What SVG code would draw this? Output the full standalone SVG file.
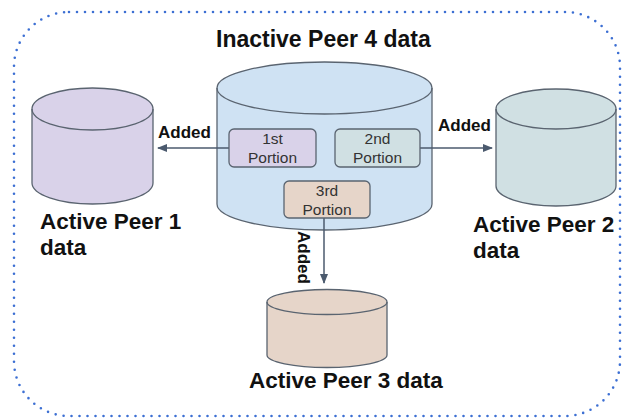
<svg xmlns="http://www.w3.org/2000/svg" width="623" height="420" viewBox="0 0 623 420">
  <defs>
    <style>
      .cyl { stroke: #5a6470; stroke-width: 1.3; }
      .box { stroke: #5a6470; stroke-width: 1.3; }
      .conn { stroke: #4b5a6e; stroke-width: 1.5; fill: none; }
      .lbl { font-family: "Liberation Sans", Arial, sans-serif; font-weight: bold; fill: #111; }
      .big { font-size: 22.5px; }
      .ttl { font-size: 23px; }
      .add { font-size: 17px; }
      .por { font-family: "Liberation Sans", Arial, sans-serif; font-size: 15.5px; fill: #333; text-anchor: middle; }
    </style>
    <marker id="arrow" viewBox="0 0 10 10" refX="9" refY="5" markerWidth="10" markerHeight="10" markerUnits="userSpaceOnUse" orient="auto">
      <path d="M0,1 L10,5 L0,9 Z" fill="#4b5a6e"/>
    </marker>
  </defs>

  <!-- dotted boundary -->
  <rect x="14" y="12" width="606" height="404" rx="55" ry="55" fill="none" stroke="#3c6fd3" stroke-width="2.6" stroke-linecap="round" stroke-dasharray="0 8"/>

  <!-- inactive peer 4 -->
  <g id="peer4">
    <path class="cyl" fill="#cfe2f3" d="M217,88 A107.5,26 0 0 1 432,88 L432,204 A107.5,26 0 0 1 217,204 Z"/>
    <path class="cyl" fill="none" d="M217,88 A107.5,26 0 0 0 432,88"/>
    <text class="lbl ttl" x="216" y="47">Inactive Peer 4 data</text>
  </g>

  <!-- active peer 1 -->
  <g id="peer1">
    <path class="cyl" fill="#d9d2e9" d="M32,109 A60.5,21 0 0 1 153,109 L153,183 A60.5,21 0 0 1 32,183 Z"/>
    <path class="cyl" fill="none" d="M32,109 A60.5,21 0 0 0 153,109"/>
    <text class="lbl big" x="40" y="229">Active Peer 1</text>
    <text class="lbl big" x="40" y="255">data</text>
  </g>

  <!-- active peer 2 -->
  <g id="peer2">
    <path class="cyl" fill="#d0e0e3" d="M496,109 A60,20 0 0 1 616,109 L616,186 A60,20 0 0 1 496,186 Z"/>
    <path class="cyl" fill="none" d="M496,109 A60,20 0 0 0 616,109"/>
    <text class="lbl big" x="473" y="232">Active Peer 2</text>
    <text class="lbl big" x="473" y="258">data</text>
  </g>

  <!-- active peer 3 -->
  <g id="peer3">
    <path class="cyl" fill="#e6d5c9" d="M267,302 A60,12.5 0 0 1 387,302 L387,355 A60,12.5 0 0 1 267,355 Z"/>
    <path class="cyl" fill="none" d="M267,302 A60,12.5 0 0 0 387,302"/>
    <text class="lbl big" x="249" y="388">Active Peer 3 data</text>
  </g>

  <!-- connectors, drawn over the source cylinder -->
  <g id="connectors">
    <line class="conn" x1="229" y1="148" x2="158" y2="148" marker-end="url(#arrow)"/>
    <line class="conn" x1="420" y1="148" x2="492" y2="148" marker-end="url(#arrow)"/>
    <line class="conn" x1="324" y1="218" x2="324" y2="283" marker-end="url(#arrow)"/>
    <text class="lbl add" x="158" y="138">Added</text>
    <text class="lbl add" x="438" y="131">Added</text>
    <text class="lbl add" transform="translate(298,231) rotate(90)">Added</text>
  </g>

  <!-- portions inside peer 4 -->
  <g id="portion1">
    <rect class="box" x="229" y="129" width="87" height="38" rx="5" fill="#d9d2e9"/>
    <text class="por" x="272.5" y="144">1st</text>
    <text class="por" x="272.5" y="163">Portion</text>
  </g>
  <g id="portion2">
    <rect class="box" x="335" y="129" width="85" height="38" rx="5" fill="#d0e0e3"/>
    <text class="por" x="377.5" y="144">2nd</text>
    <text class="por" x="377.5" y="163">Portion</text>
  </g>
  <g id="portion3">
    <rect class="box" x="284" y="181" width="86" height="37" rx="5" fill="#e6d5c9"/>
    <text class="por" x="327" y="196">3rd</text>
    <text class="por" x="327" y="215">Portion</text>
  </g>
</svg>
